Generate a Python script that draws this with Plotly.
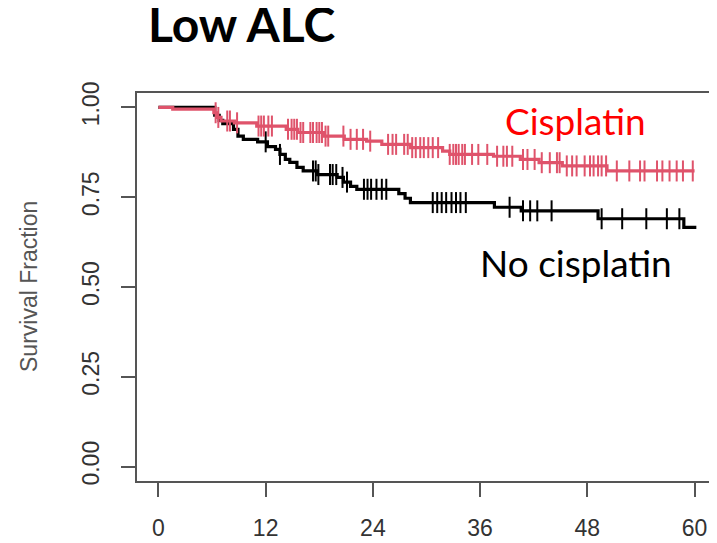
import plotly.graph_objects as go
import bisect

# Kaplan-Meier step data (months, survival fraction)
cis_times = [0, 1.6, 6.2, 6.6, 7.0, 8.5, 11.0, 14.3, 15.6, 18.5, 20.8, 23.3, 25.0, 28.2,
             31.8, 32.6, 37.5, 40.5, 42.6, 45.2, 50.2, 60.0]
cis_surv = [1.0, 0.995, 0.985, 0.972, 0.962, 0.957, 0.948, 0.939, 0.930, 0.920, 0.911, 0.906,
            0.897, 0.888, 0.878, 0.869, 0.864, 0.855, 0.846, 0.837, 0.823, 0.823]
cis_censor = [6.4, 6.7, 7.7, 8.0, 8.8, 11.2, 11.5, 11.8, 12.3, 12.7, 14.5, 14.9, 15.2, 15.5,
              15.9, 16.2, 17.0, 17.3, 17.7, 18.0, 18.3, 18.7, 19.0, 20.7, 21.5, 22.2, 22.9,
              23.7, 25.7, 26.2, 26.6, 27.5, 27.9, 28.4, 28.8, 29.3, 29.7, 30.2, 30.7, 31.3,
              32.6, 33.0, 33.3, 33.6, 34.0, 34.3, 35.1, 35.8, 36.8, 37.9, 38.6, 39.0, 39.6,
              40.8, 41.3, 42.1, 42.9, 43.8, 44.6, 44.9, 45.7, 46.3, 46.8, 47.7, 48.3, 48.7,
              49.2, 49.6, 50.1, 51.3, 52.7, 53.9, 54.4, 55.8, 56.4, 57.2, 58.0, 58.7, 59.8]

nocis_times = [0, 6.3, 6.8, 7.2, 8.4, 8.9, 9.5, 11.1, 12.2, 13.1, 13.6, 14.2, 14.7, 15.5,
               16.2, 17.8, 20.0, 20.7, 21.5, 22.2, 26.9, 27.6, 28.2, 37.6, 40.6, 49.2, 58.8, 60.2]
nocis_surv = [1.0, 0.978, 0.964, 0.955, 0.939, 0.920, 0.911, 0.904, 0.891, 0.883, 0.869, 0.855,
              0.847, 0.833, 0.823, 0.813, 0.805, 0.792, 0.780, 0.772, 0.760, 0.747, 0.735,
              0.722, 0.712, 0.690, 0.666, 0.666]
nocis_censor = [12.0, 13.6, 17.3, 17.6, 17.9, 19.2, 19.5, 19.9, 20.6, 21.1, 23.0, 23.4, 23.8,
                24.4, 25.0, 25.5, 30.7, 31.2, 31.7, 32.2, 32.8, 33.3, 33.8, 34.4, 39.3, 40.8,
                41.6, 42.4, 44.0, 49.6, 51.9, 54.6, 56.9, 58.3]

x_ticks = [0, 12, 24, 36, 48, 60]
y_ticks = [0.0, 0.25, 0.5, 0.75, 1.0]
y_tick_labels = ["0.00", "0.25", "0.50", "0.75", "1.00"]

title_text = "Low ALC"
label_cis = "Cisplatin"
label_nocis = "No cisplatin"
y_title = "Survival Fraction"

RED = "#DF536B"
BLACK = "#000000"

# the page body adds an 8px offset; size the figure so it fills the window
OFF = 8
W, H = 717 - OFF, 543 - OFF
ML, MR, MT, MB = 137 - OFF, 1, 93 - OFF, 62
PW = W - ML - MR
PH = H - MT - MB


def paper_x(px):
    return (px - OFF - ML) / PW


def paper_y(py):
    return (H - MB - (py - OFF)) / PH


def surv_at(times, surv, t):
    i = bisect.bisect_right(times, t) - 1
    return surv[max(i, 0)]


fig = go.Figure()

for times, surv, cens, col in [
    (nocis_times, nocis_surv, nocis_censor, BLACK),
    (cis_times, cis_surv, cis_censor, RED),
]:
    fig.add_trace(go.Scatter(x=times, y=surv, mode="lines",
                             line=dict(color=col, width=3.2, shape="hv"),
                             showlegend=False, hoverinfo="skip"))
    fig.add_trace(go.Scatter(x=cens, y=[surv_at(times, surv, t) for t in cens],
                             mode="markers",
                             marker=dict(symbol="line-ns", size=15,
                                         line=dict(color=col, width=2)),
                             showlegend=False, hoverinfo="skip"))

axis_col = "#555555"
fig.update_layout(
    width=W, height=H,
    margin=dict(l=ML, r=MR, t=MT, b=MB, autoexpand=False),
    paper_bgcolor="white", plot_bgcolor="white",
    xaxis=dict(range=[-2.4, 62.4], tickvals=x_ticks, ticktext=[str(v) for v in x_ticks],
               automargin=False,
               showgrid=False, zeroline=False, showline=True, linecolor=axis_col,
               linewidth=2, mirror=True, ticks="outside", ticklen=14, tickwidth=2,
               tickcolor=axis_col, ticklabelstandoff=11,
               tickfont=dict(family="Liberation Sans", size=23, color="#333333")),
    yaxis=dict(range=[-0.04, 1.04], tickvals=y_ticks, ticktext=y_tick_labels,
               tickangle=-90, automargin=False,
               showgrid=False, zeroline=False, showline=True, linecolor=axis_col,
               linewidth=2, mirror=True, ticks="outside", ticklen=14, tickwidth=2,
               tickcolor=axis_col, ticklabelstandoff=13,
               tickfont=dict(family="Liberation Sans", size=23, color="#333333")),
    annotations=[
        dict(x=paper_x(146), y=paper_y(-7), xref="paper", yref="paper",
             text="<b>" + title_text + "</b>",
             showarrow=False, xanchor="left", yanchor="top",
             font=dict(family="Lato", size=48, color="black")),
        dict(x=paper_x(29), y=0.5, xref="paper", yref="paper", text=y_title,
             textangle=-90, showarrow=False, xanchor="center", yanchor="middle",
             font=dict(family="Liberation Sans", size=23, color="#555555")),
        dict(x=46.7, y=0.963, xref="x", yref="y", text=label_cis, showarrow=False,
             xanchor="center", yanchor="middle",
             font=dict(family="Lato", size=37, color="#FF0000")),
        dict(x=46.7, y=0.569, xref="x", yref="y", text=label_nocis, showarrow=False,
             xanchor="center", yanchor="middle",
             font=dict(family="Lato", size=37, color="#000000")),
    ],
)

fig.write_html("out.html")
